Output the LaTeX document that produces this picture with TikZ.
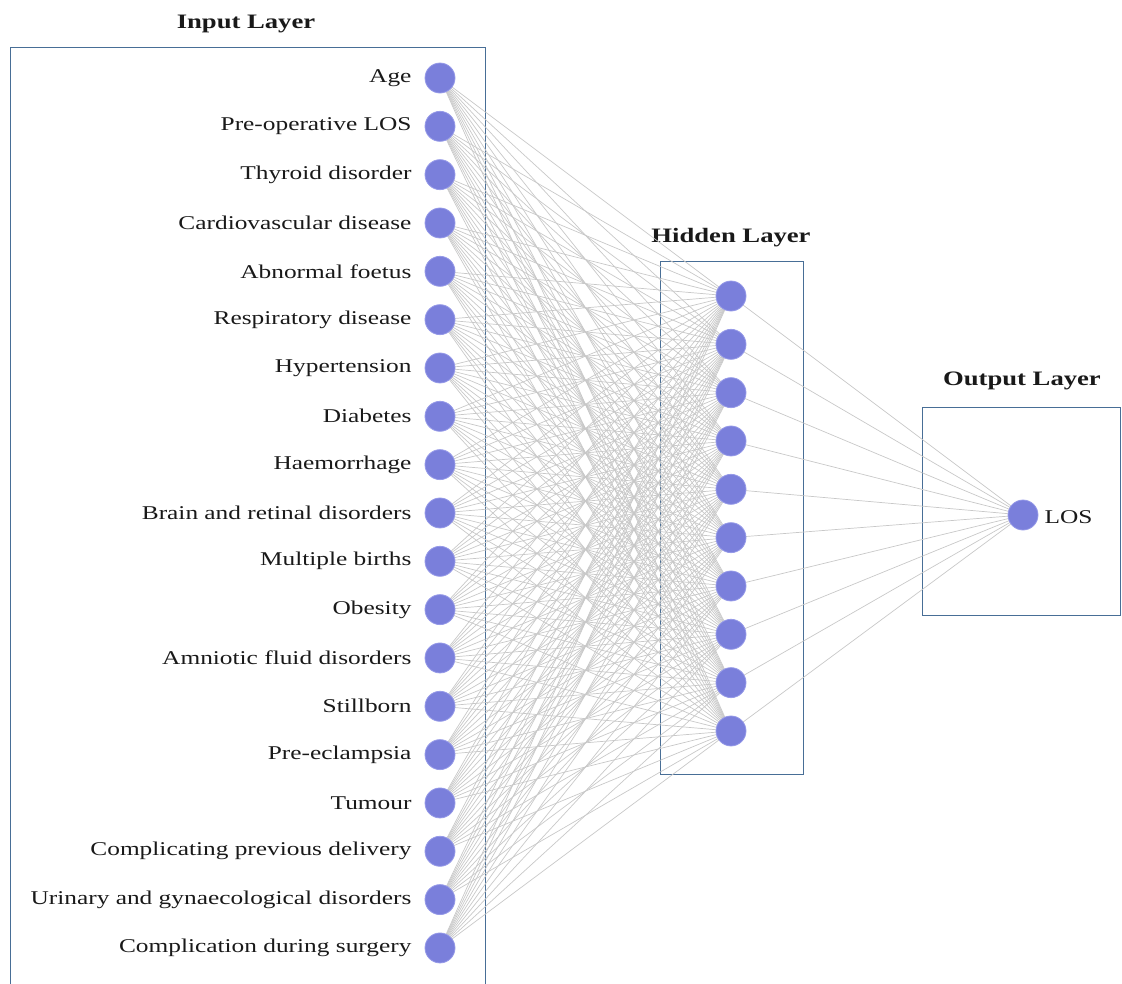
\documentclass[tikz,border=0pt]{standalone}
\usepackage{fontspec}
\setmainfont[FakeStretch=1.3]{Liberation Serif}
\definecolor{nodefill}{RGB}{122,127,219}
\definecolor{nodeedge}{RGB}{150,154,232}
\definecolor{boxedge}{RGB}{72,110,150}
\definecolor{wire}{RGB}{200,200,200}
\definecolor{txt}{RGB}{25,25,25}
\tikzset{
  neuron/.style={circle,fill=nodefill,draw=nodeedge,line width=0.8pt,minimum size=30pt,inner sep=0pt},
  layerbox/.style={draw=boxedge,line width=1pt},
  layertitle/.style={font=\fontsize{20.5}{24}\selectfont\bfseries,text=txt},
  feat/.style={font=\fontsize{19.5}{23}\selectfont,text=txt,anchor=east},
  wireline/.style={draw=wire,line width=0.7pt}
}
\begin{document}
\begin{tikzpicture}[x=1pt,y=-1pt]
\clip (0,0) rectangle (1122,983);
% boxes
\draw[layerbox] (10,47) rectangle (485,1000);
\draw[layerbox] (660,261) rectangle (803,774);
\draw[layerbox] (922,407) rectangle (1120,615);
\node[layertitle] (tin) at (246,24) {Input Layer};
\node[layertitle] (thid) at (731,238) {Hidden Layer};
\node[layertitle] (tout) at (1022,381) {Output Layer};
% node positions
\foreach \i in {1,...,19}{
  \coordinate (ic\i) at (440,{78+(\i-1)*48.33});
}
\foreach \j in {1,...,10}{
  \coordinate (hc\j) at (731,{296+(\j-1)*48.33});
}
\coordinate (oc) at (1023,515);
% wires
\foreach \i in {1,...,19}{
  \foreach \j in {1,...,10}{
    \draw[wireline] (ic\i) -- (hc\j);
  }
}
\foreach \j in {1,...,10}{
  \draw[wireline] (hc\j) -- (oc);
}
\foreach \lab [count=\i] in {Age,Pre-operative LOS,Thyroid disorder,Cardiovascular disease,Abnormal foetus,Respiratory disease,Hypertension,Diabetes,Haemorrhage,Brain and retinal disorders,Multiple births,Obesity,Amniotic fluid disorders,Stillborn,Pre-eclampsia,Tumour,Complicating previous delivery,Urinary and gynaecological disorders,Complication during surgery}{
  \node[neuron] (in\i) at (ic\i) {};
  \node[feat] (il\i) at ([xshift=-25pt]ic\i) {\lab};
}
\foreach \j in {1,...,10}{
  \node[neuron] (h\j) at (hc\j) {};
}
\node[neuron] (out) at (oc) {};
\node[font=\fontsize{19.5}{23}\selectfont,text=txt,anchor=west] (outl) at (1041,517) {LOS};
\end{tikzpicture}
\end{document}
